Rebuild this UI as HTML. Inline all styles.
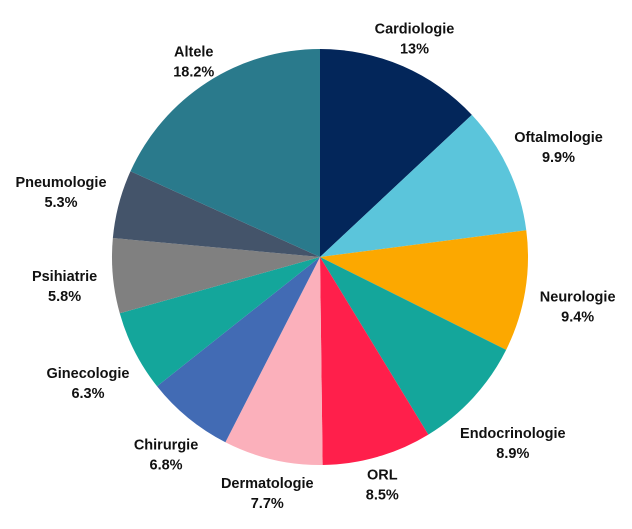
<!DOCTYPE html>
<html>
<head>
<meta charset="utf-8">
<style>
  html,body{margin:0;padding:0;background:#fff;}
  svg{display:block;}
  text{font-family:"Liberation Sans",Arial,sans-serif;font-weight:bold;font-size:14.5px;fill:#111;}
</style>
</head>
<body>
<svg id="chart" width="632" height="529" viewBox="0 0 632 529" xmlns="http://www.w3.org/2000/svg"></svg>
<script>
const categories = ["Cardiologie","Oftalmologie","Neurologie","Endocrinologie","ORL","Dermatologie","Chirurgie","Ginecologie","Psihiatrie","Pneumologie","Altele"];
const values = [13, 9.9, 9.4, 8.9, 8.5, 7.7, 6.8, 6.3, 5.8, 5.3, 18.2];
const valueLabels = ["13%","9.9%","9.4%","8.9%","8.5%","7.7%","6.8%","6.3%","5.8%","5.3%","18.2%"];
const colors = ["#03265a","#5bc5db","#fca800","#14a69b","#ff1f4b","#fbb0bb","#426bb4","#14a69b","#808080","#44546a","#2a7a8c"];

const svg = document.getElementById('chart');
const NS = "http://www.w3.org/2000/svg";
const cx = 320, cy = 257, r = 208;
const total = values.reduce((a,b)=>a+b,0);
function angleOf(v){ return v/total*2*Math.PI; }
function pt(a, rad){ return [cx + rad*Math.sin(a), cy - rad*Math.cos(a)]; }

let acc = 0;
const slug = s => s.toLowerCase().replace(/[^a-z0-9]+/g,'-');
values.forEach((v,i)=>{
  const a0 = angleOf(acc), a1 = angleOf(acc+v);
  acc += v;
  const [x0,y0] = pt(a0,r), [x1,y1] = pt(a1,r);
  const large = (a1-a0) > Math.PI ? 1 : 0;
  const p = document.createElementNS(NS,'path');
  p.setAttribute('d', `M${cx},${cy} L${x0},${y0} A${r},${r} 0 ${large} 1 ${x1},${y1} Z`);
  p.setAttribute('fill', colors[i]);
  
  
  svg.appendChild(p);

  const mid = (a0+a1)/2;
  const g = document.createElementNS(NS,'g');
  
  
  const t1 = document.createElementNS(NS,'text');
  t1.textContent = categories[i];
  t1.setAttribute('text-anchor','middle');
  
  
  const t2 = document.createElementNS(NS,'text');
  t2.textContent = valueLabels[i];
  t2.setAttribute('text-anchor','middle');
  
  
  g.appendChild(t1); g.appendChild(t2);
  svg.appendChild(g);
  const w = t1.getComputedTextLength ? t1.getComputedTextLength() : 80;
  const R = 226 + (w/2 + 4)*Math.abs(Math.sin(mid));
  const lx = cx + (R - 6)*Math.sin(mid);
  const ly = cy - R*Math.cos(mid) + 4;
  t1.setAttribute('x', lx); t1.setAttribute('y', ly - 4);
  t2.setAttribute('x', lx); t2.setAttribute('y', ly + 16);
});
</script>
</body>
</html>
